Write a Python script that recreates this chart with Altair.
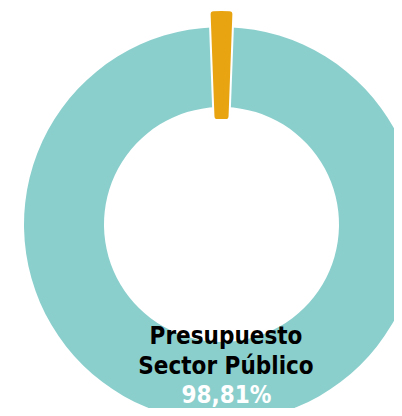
import math
import altair as alt
import pandas as pd

# Data
categories = ["Otros", "Presupuesto Sector Público"]
shares = [1.19, 98.81]
colors = ["#E9A412", "#8BCFCD"]
order = [0, 1]

label_lines = ["Presupuesto", "Sector Público"]
value_label = "98,81%"

df = pd.DataFrame({"cat": categories, "share": shares, "ord": order})
total = sum(shares)
half = math.pi * shares[0] / total  # half of the small slice angle, to centre it at the top

theta_enc = alt.Theta(
    "share:Q",
    stack=True,
    scale=alt.Scale(domain=[0, total], range=[-half, 2 * math.pi - half]),
)
color_enc = alt.Color(
    "cat:N", scale=alt.Scale(domain=categories, range=colors), legend=None
)
cx, cy = 213.5, 216.5

base = alt.Chart(df).encode(
    theta=theta_enc,
    order=alt.Order("ord:Q"),
    x=alt.value(cx),
    y=alt.value(cy),
)

donut = base.mark_arc(radius=197.5, radius2=117.5).encode(color=color_enc)

small = base.transform_filter(alt.datum.cat == categories[0])

gap = small.mark_arc(
    radius=210.5, radius2=108.5, fill="white", stroke="white", strokeWidth=10
)

bar = small.mark_arc(
    radius=210.5, radius2=108.5, stroke=colors[0], strokeWidth=6, strokeJoin="round"
).encode(color=color_enc)

FONT = "Liberation Sans Narrow, DejaVu Sans Condensed, Roboto Condensed, Roboto"
texts = []
for line, yb in zip(label_lines, [336, 366]):
    texts.append(
        alt.Chart(df.head(1)).mark_text(
            text=line, font=FONT, fontWeight="bold",
            fontSize=24, color="black", align="center", baseline="alphabetic"
        ).encode(x=alt.value(218), y=alt.value(yb))
    )
texts.append(
    alt.Chart(df.head(1)).mark_text(
        text=value_label, font=FONT, fontWeight="bold",
        fontSize=24, color="white", align="center", baseline="alphabetic"
    ).encode(x=alt.value(218.5), y=alt.value(395))
)

chart = alt.layer(donut, gap, bar, *texts).properties(
    width=386, height=400, padding=0, autosize="none"
).configure_view(stroke=None)

chart.save("out.html", embed_options={"renderer": "svg", "actions": False})
